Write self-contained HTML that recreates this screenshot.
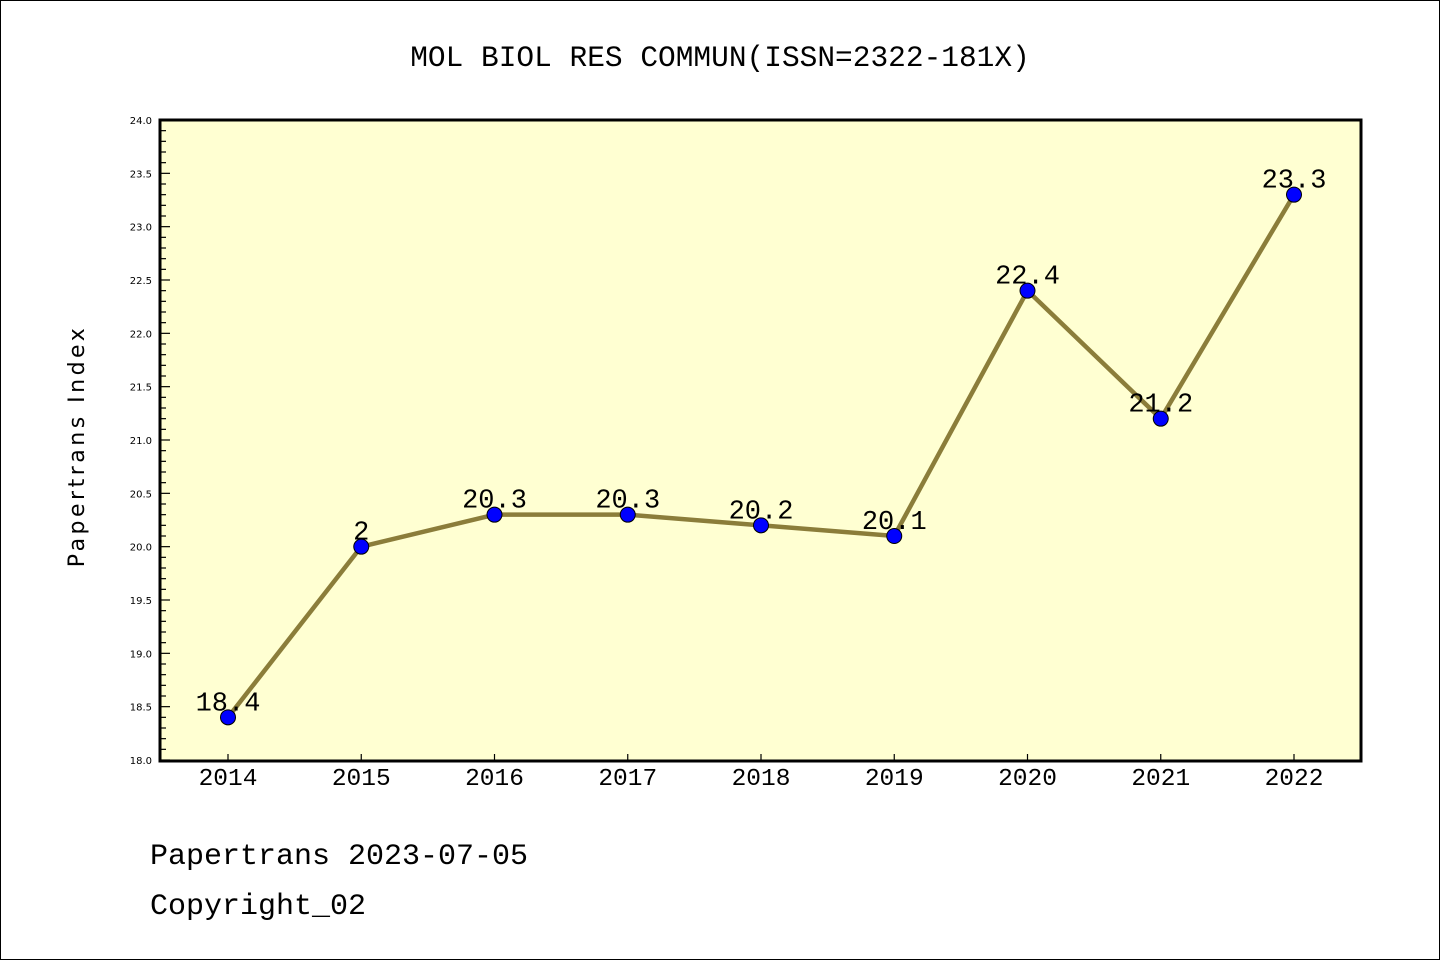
<!DOCTYPE html>
<html><head><meta charset="utf-8"><style>
html,body{margin:0;padding:0;background:#fff}
svg{display:block}
</style></head><body>
<svg id="chart" width="1440" height="960" xmlns="http://www.w3.org/2000/svg">
<rect x="0.5" y="0.5" width="1439" height="959" fill="#fff" stroke="#000"/>
<text x="720" y="66" text-anchor="middle" font-family="Liberation Mono, monospace" font-size="29.5">MOL BIOL RES COMMUN(ISSN=2322-181X)</text>
<rect x="160" y="120" width="1201" height="641" fill="#ffffd2"/>
<g id="yaxis"></g>
<g id="xaxis"></g>
<g id="series"></g>
<rect x="160" y="120" width="1201" height="641" fill="none" stroke="#000" stroke-width="3"/>
<text transform="translate(84,446) rotate(-90)" text-anchor="middle" font-family="DejaVu Sans, sans-serif" font-size="22" letter-spacing="3.5">Papertrans Index</text>
<text x="150" y="864" font-family="Liberation Mono, monospace" font-size="30">Papertrans 2023-07-05</text>
<text x="150" y="914" font-family="Liberation Mono, monospace" font-size="30">Copyright_02</text>
</svg>
<script>
const years = ["2014","2015","2016","2017","2018","2019","2020","2021","2022"];
const values = [18.4,20.0,20.3,20.3,20.2,20.1,22.4,21.2,23.3];
const valueLabels = ["18.4","2","20.3","20.3","20.2","20.1","22.4","21.2","23.3"];
const yTicks = ["18.0","18.5","19.0","19.5","20.0","20.5","21.0","21.5","22.0","22.5","23.0","23.5","24.0"];
const NS="http://www.w3.org/2000/svg";
const yMin=18,yMax=24,plotTop=120,plotBottom=760,plotLeft=160;
const yS=v=>plotBottom-(v-yMin)/(yMax-yMin)*(plotBottom-plotTop);
const xS=i=>228+i*(1294-228)/(years.length-1);
function mk(t,a,p){const e=document.createElementNS(NS,t);for(const k in a)e.setAttribute(k,a[k]);p.appendChild(e);return e;}
const ya=document.getElementById('yaxis');
for(let k=0;k<=60;k++){const v=yMin+k*0.1;const major=k%5===0;
 const l=mk('line',{x1:plotLeft,x2:plotLeft+(major?10:6),y1:yS(v),y2:yS(v),stroke:'#000','stroke-width':1.2},ya);
 
 }
yTicks.forEach(t=>{const e=mk('text',{x:plotLeft-8,y:yS(parseFloat(t))+4,'text-anchor':'end','font-family':'DejaVu Sans, sans-serif','font-size':10},ya);e.textContent=t;
 
 });
const xa=document.getElementById('xaxis');
years.forEach((yr,i)=>{const l=mk('line',{x1:xS(i),x2:xS(i),y1:plotBottom,y2:plotBottom-6,stroke:'#000','stroke-width':1.2},xa);
 
 
 const e=mk('text',{x:xS(i),y:785,'text-anchor':'middle','font-family':'Liberation Mono, monospace','font-size':24.5},xa);e.textContent=yr;
 
 });
const s=document.getElementById('series');
const pl=mk('polyline',{points:values.map((v,i)=>xS(i)+','+yS(v)).join(' '),fill:'none',stroke:'#8b7d3a','stroke-width':4.5,'stroke-linejoin':'round'},s);


values.forEach((v,i)=>{const c=mk('circle',{cx:xS(i),cy:yS(v),r:7.5,fill:'#0000ff',stroke:'#000','stroke-width':1},s);
 
 
 const t=mk('text',{x:xS(i),y:yS(v)-7,'text-anchor':'middle','font-family':'Liberation Mono, monospace','font-size':27},s);t.textContent=valueLabels[i];
 
 });
</script>
</body></html>
